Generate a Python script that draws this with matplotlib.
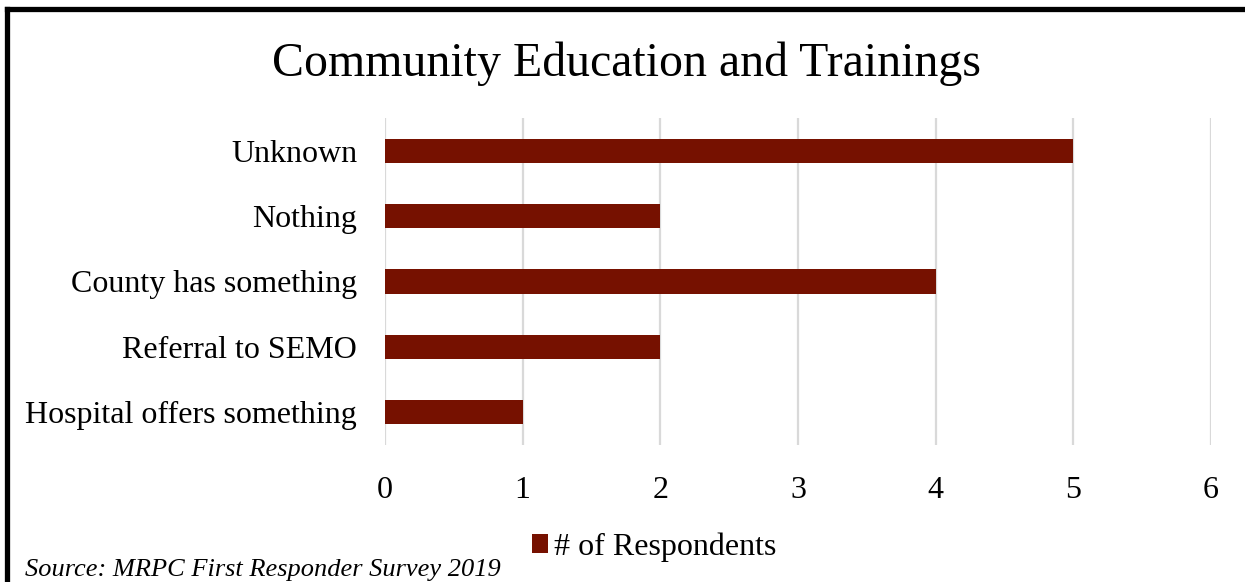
import matplotlib
matplotlib.use("Agg")
import matplotlib.pyplot as plt
from matplotlib.lines import Line2D
from matplotlib.patches import Patch

plt.rcParams['font.family'] = ['Liberation Serif', 'DejaVu Serif']

# survey counts, listed bottom to top
categories = ['Hospital offers something', 'Referral to SEMO', 'County has something',
              'Nothing', 'Unknown']
respondents = [1, 2, 4, 2, 5]
x_ticks = [0, 1, 2, 3, 4, 5, 6]

bar_color = '#761100'
grid_color = '#d9d9d9'

fig = plt.figure(figsize=(12.45, 5.82), dpi=100)
ax = fig.add_axes([0.3092, 0.2354, 0.6635, 0.5619])

ax.barh(range(len(categories)), respondents, height=0.37, color=bar_color,
        zorder=3, label='# of Respondents')
ax.set_xlim(0, 6)
ax.set_ylim(-0.5, len(categories) - 0.5)
ax.set_xticks(x_ticks)
ax.set_xticklabels([str(t) for t in x_ticks])
ax.set_yticks(range(len(categories)))
ax.set_yticklabels(categories)
ax.tick_params(axis='both', length=0, labelsize=23)
ax.tick_params(axis='x', pad=22.5)
ax.tick_params(axis='y', pad=20)
ax.grid(axis='x', color=grid_color, linewidth=1.6, zorder=0)
for s in ax.spines.values():
    s.set_visible(False)

fig.text(0.5036, 0.89, 'Community Education and Trainings', ha='center', va='center',
         fontsize=34.5)

handle = Patch(facecolor=bar_color, edgecolor='none')
fig.legend([handle], ['# of Respondents'], loc='center', bbox_to_anchor=(0.5255, 0.06),
           frameon=False, fontsize=23, handlelength=0.5, handleheight=0.5,
           handletextpad=0.2)

fig.text(0.02, 0.02, 'Source: MRPC First Responder Survey 2019', ha='left', va='center',
         fontsize=19, style='italic')

# outer frame: top edge and left edge only
fig.add_artist(Line2D([0.0056, 1.0], [0.9837, 0.9837], color='black', linewidth=3.8,
                      transform=fig.transFigure, solid_capstyle='projecting'))
fig.add_artist(Line2D([0.0056, 0.0056], [0.9837, 0.0], color='black', linewidth=3.8,
                      transform=fig.transFigure, solid_capstyle='projecting'))

fig.savefig('out.png', dpi=100, facecolor='white')
